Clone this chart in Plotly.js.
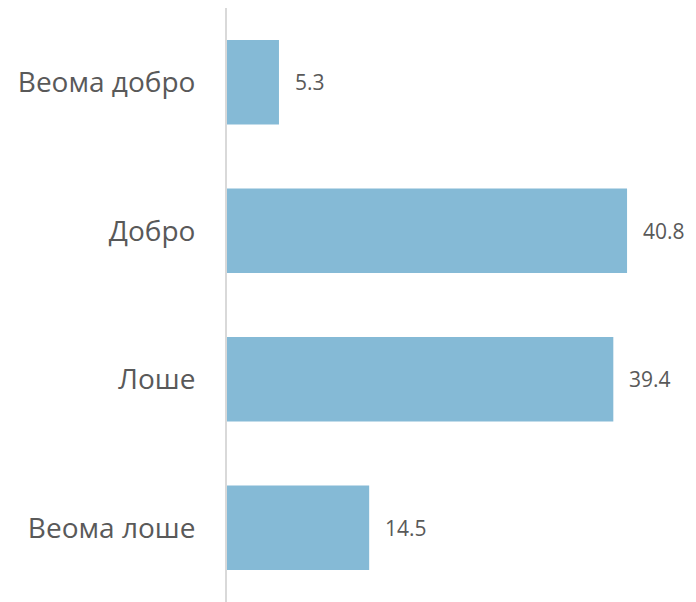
<!DOCTYPE html>
<html>
<head>
<meta charset="utf-8">
<script src="https://cdn.plot.ly/plotly-3.0.1.min.js"></script>
<style>html,body{margin:0;padding:0;background:#fff;}#chart{width:696px;height:602px;}</style>
</head>
<body>
<div id="chart"></div>
<script>
const categories = ["Веома добро", "Добро", "Лоше", "Веома лоше"];
const values = [5.3, 40.8, 39.4, 14.5];
const labels = ["5.3", "40.8", "39.4", "14.5"];

const trace = {
  type: "bar",
  orientation: "h",
  y: categories,
  x: values,
  marker: { color: "#85BAD6" },
  hoverinfo: "none"
};

const annotations = categories.map((c, i) => ({
  x: values[i], y: c, xref: "x", yref: "y",
  text: labels[i], showarrow: false, xanchor: "left", xshift: 14,
  font: { family: "Open Sans, sans-serif", size: 21, color: "#595959" }
}));

const layout = {
  width: 696, height: 602,
  margin: { l: 227, r: 16, t: 8, b: 0 },
  paper_bgcolor: "#fff", plot_bgcolor: "#fff",
  bargap: 0.43,
  showlegend: false,
  xaxis: { range: [0, 46.2], visible: false, showgrid: false, zeroline: false, fixedrange: true },
  yaxis: {
    autorange: "reversed",
    showline: true, linecolor: "#d9d9d9", linewidth: 2,
    showgrid: false, zeroline: false, ticks: "",
    ticklabelstandoff: 24,
    tickfont: { family: "Open Sans, sans-serif", size: 28, color: "#595959" }
  },
  annotations: annotations,
  font: { family: "Open Sans, sans-serif", color: "#595959" }
};

Plotly.newPlot("chart", [trace], layout, { staticPlot: true, displayModeBar: false });
</script>
</body>
</html>
